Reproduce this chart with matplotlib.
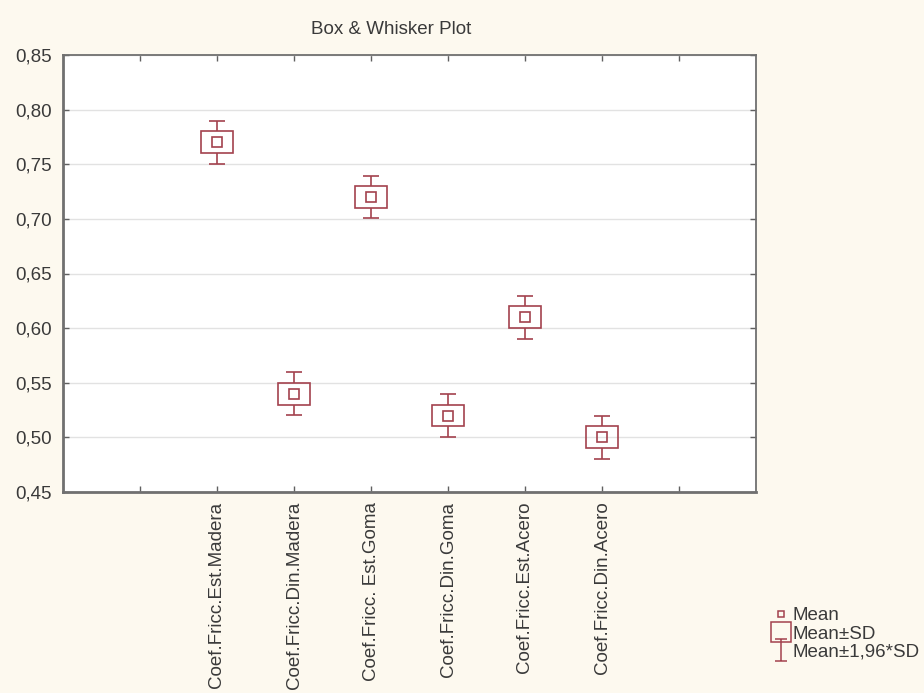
import matplotlib.pyplot as plt
import numpy as np
from matplotlib.lines import Line2D
from matplotlib.patches import Rectangle
from matplotlib.path import Path

categories = ["Coef.Fricc.Est.Madera", "Coef.Fricc.Din.Madera", "Coef.Fricc. Est.Goma",
              "Coef.Fricc.Din.Goma", "Coef.Fricc.Est.Acero", "Coef.Fricc.Din.Acero"]
means = [0.77, 0.54, 0.72, 0.52, 0.61, 0.50]
sds = [0.01, 0.01, 0.01, 0.01, 0.01, 0.01]
yticks = [0.45, 0.50, 0.55, 0.60, 0.65, 0.70, 0.75, 0.80, 0.85]

plt.rcParams['font.family'] = ['Liberation Sans', 'DejaVu Sans']
plt.rcParams['font.size'] = 13.5

col = "#a3424e"
txt = "#3a3a3a"

fig = plt.figure(figsize=(9.24, 6.93), dpi=100, facecolor="#fdf9ef")
ax = fig.add_axes([63 / 924, 1 - 492 / 693, (756 - 63) / 924, (492 - 55) / 693])
ax.set_facecolor("white")

box_w = 0.415
cap_w = 0.21
for i, (m, s) in enumerate(zip(means, sds)):
    x = i + 1
    ax.add_patch(Rectangle((x - box_w / 2, m - s), box_w, 2 * s, fill=False,
                           edgecolor=col, lw=1.2, zorder=3))
    ax.plot(x, m, 's', ms=6.5, mfc='none', mec=col, mew=1.2, zorder=3)
    ax.vlines(x, m + s, m + 1.96 * s, color=col, lw=1.2, zorder=3)
    ax.vlines(x, m - 1.96 * s, m - s, color=col, lw=1.2, zorder=3)
    ax.hlines([m + 1.96 * s, m - 1.96 * s], x - cap_w / 2, x + cap_w / 2,
              color=col, lw=1.2, zorder=3)

ax.set_xlim(-1, 8)
ax.set_ylim(0.45, 0.85)
ax.set_xticks(range(8))
ax.set_xticklabels([""] + categories + [""], rotation=90, color=txt)
ax.set_yticks(yticks)
ax.set_yticklabels([("%.2f" % v).replace(".", ",") for v in yticks], color=txt)
ax.tick_params(direction="in", length=4, width=1, color="#606060",
               top=True, right=True)
ax.tick_params(axis="y", pad=8)
ax.tick_params(axis="x", pad=7)
ax.grid(axis="y", color="#e2e2e2", lw=1)
ax.set_axisbelow(True)
for side, sp in ax.spines.items():
    sp.set_color("#707070")
    sp.set_linewidth(2 if side in ("left", "bottom") else 1.3)

fig.text(391 / 924, 1 - 30 / 693, "Box & Whisker Plot", ha="center", va="center", color=txt)

# legend symbol for the 1.96*SD whiskers
ibeam = Path([(-0.5, 1), (0.5, 1), (0, 1), (0, -1), (-0.5, -1), (0.5, -1)],
             [Path.MOVETO, Path.LINETO, Path.MOVETO, Path.LINETO, Path.MOVETO, Path.LINETO])
handles = [
    Line2D([], [], ls="none", marker="s", ms=5, mfc="none", mec=col, mew=1.1),
    Line2D([], [], ls="none", marker="s", ms=14, mfc="none", mec=col, mew=1.1),
    Line2D([], [], ls="none", marker=ibeam, ms=16, mfc="none", mec=col, mew=1.1),
]
fig.legend(handles, ["Mean", "Mean±SD", "Mean±1,96*SD"], loc="upper left",
           bbox_to_anchor=(762 / 924, 1 - 598 / 693), frameon=False,
           handlelength=1.0, handletextpad=0.15, labelspacing=0.05,
           borderpad=0, labelcolor=txt)

fig.savefig("out.png", dpi=100, facecolor=fig.get_facecolor())
